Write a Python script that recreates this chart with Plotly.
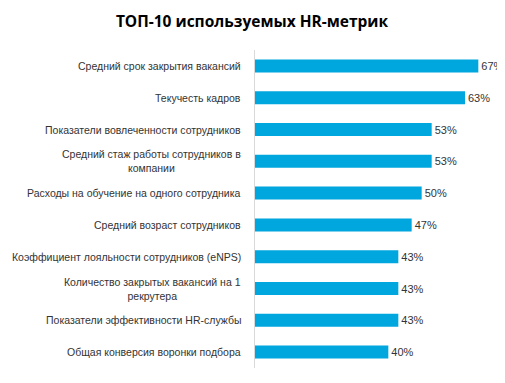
import plotly.graph_objects as go

categories = [
    "Средний срок закрытия вакансий",
    "Текучесть кадров",
    "Показатели вовлеченности сотрудников",
    "Средний стаж работы сотрудников в<br>компании",
    "Расходы на обучение на одного сотрудника",
    "Средний возраст сотрудников",
    "Коэффициент лояльности сотрудников (eNPS)",
    "Количество закрытых вакансий на 1<br>рекрутера",
    "Показатели эффективности HR-службы",
    "Общая конверсия воронки подбора",
]
values = [67, 63, 53, 53, 50, 47, 43, 43, 43, 40]
value_labels = [f"{v}%" for v in values]

FONT = "Liberation Sans, Arial, sans-serif"
TEXT_COLOR = "#333333"

fig = go.Figure(go.Bar(
    x=values, y=list(range(len(categories))), orientation="h",
    marker=dict(color="#00A6DE", line=dict(width=0)),
    text=value_labels, textposition="outside", cliponaxis=False,
    textfont=dict(family=FONT, size=11, color=TEXT_COLOR),
))

for i, c in enumerate(categories):
    fig.add_annotation(
        x=0, y=i, xref="x", yref="y", text=c, showarrow=False,
        xanchor="right", yanchor="middle", align="center", xshift=-12,
        font=dict(family=FONT, size=10.5, color=TEXT_COLOR),
    )

# page body has an 8px margin, so the figure is sized to fit the window
fig.update_layout(
    width=497, height=375,
    margin=dict(l=247, r=9.5, t=41.5, b=14.7),
    paper_bgcolor="white", plot_bgcolor="white",
    bargap=0.59,
    showlegend=False,
    title=dict(text="<b>ТОП-10 используемых HR-метрик</b>", x=0.491, xanchor="center",
               y=0.963, yanchor="middle",
               font=dict(family="Open Sans, Arial, sans-serif", size=15.5, color="#000000")),
    xaxis=dict(range=[0, 72], visible=False),
    yaxis=dict(range=[9.5, -0.5], showticklabels=False, showgrid=False, zeroline=False,
               showline=True, linecolor="#d9d9d9", linewidth=1, ticks=""),
)

fig.write_html("out.html")
